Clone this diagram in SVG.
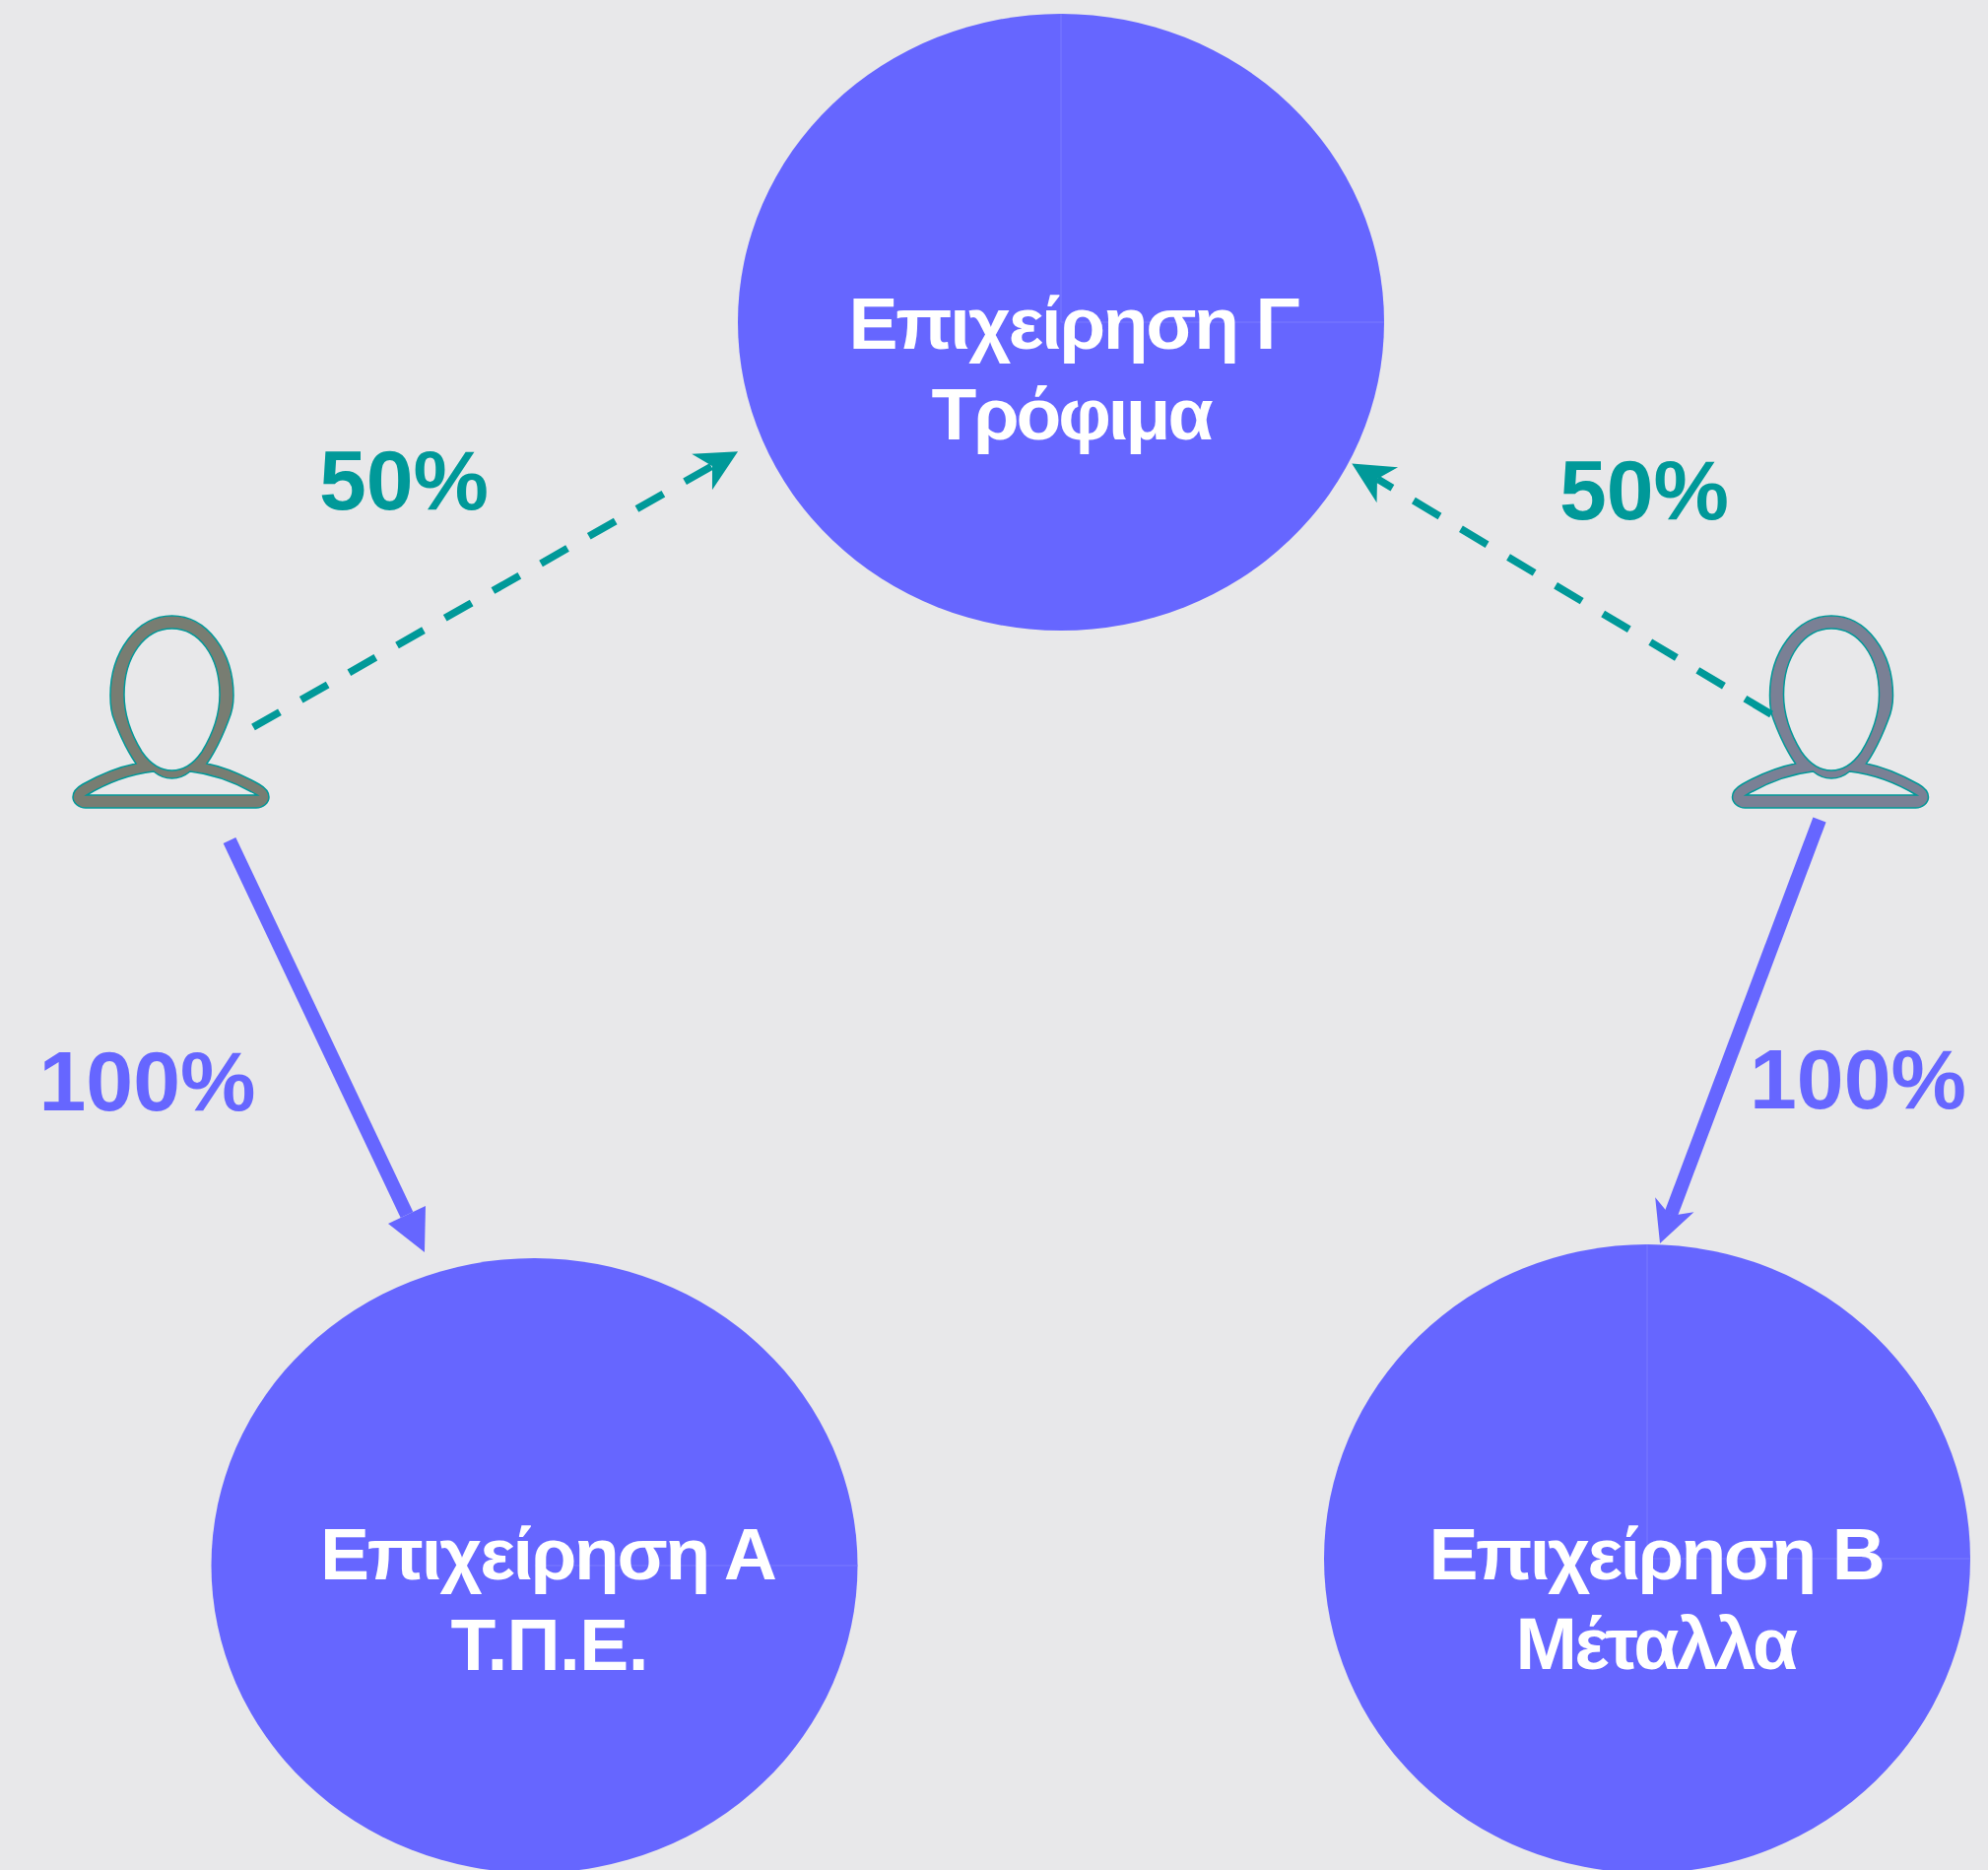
<svg xmlns="http://www.w3.org/2000/svg" width="2018" height="1898" viewBox="0 0 2018 1898">
<style>
.company{fill:#6666ff}
.seam{stroke:#7a7aff;stroke-width:1;fill:none}
.title{font-family:"Liberation Sans",Arial,sans-serif;font-weight:700;font-size:75px;fill:#fff}
.pct{font-family:"Liberation Sans",Arial,sans-serif;font-weight:700;font-size:86px;text-anchor:middle}
.teal{fill:#009999}
.blue{fill:#6666ff}
.person{fill-rule:evenodd;stroke:#009999;stroke-width:1.5}
.dash{stroke:#009999;stroke-width:7.5;stroke-dasharray:31 25;fill:none}
.solid{stroke:#6666ff;stroke-width:14;fill:none}
</style>
<defs>
<marker id="barbTeal" markerUnits="userSpaceOnUse" markerWidth="60" markerHeight="60" viewBox="-20 -30 60 60" refX="0" refY="0" orient="auto"><path d="M30,0L-12,-21L0,0L-12,21Z" fill="#009999"/></marker>
<marker id="barbBlue" markerUnits="userSpaceOnUse" markerWidth="60" markerHeight="60" viewBox="-20 -30 60 60" refX="0" refY="0" orient="auto"><path d="M30,0L-12,-21L0,0L-12,21Z" fill="#6666ff"/></marker>
<marker id="plainBlue" markerUnits="userSpaceOnUse" markerWidth="60" markerHeight="60" viewBox="-10 -30 60 60" refX="0" refY="0" orient="auto"><path d="M42,0L0,-21L0,21Z" fill="#6666ff"/></marker>
<path id="personShape" d="M174.5,625C210,625 237,662 237,706C237,716 235,724 232,731C226,747 219,762 210,775C230,779 247,787 263,796C270,800 273,804 273,809C273,815 267,820 260,820L87,820C80,820 74,815 74,809C74,804 77,800 84,796C100,787 118,779 138,775C129,762 122,747 116,731C113,724 112,716 112,706C112,662 139,625 174.5,625ZM174.5,638C147,638 126,666 126,705C126,726 133,745 144,763C153,776 163,782 174.5,782C186,782 196,776 205,763C216,745 223,726 223,705C223,666 202,638 174.5,638ZM156,783C130,786 108,795 88,807L261,807C241,795 219,786 193,783C187,788 181,790 174.5,790C168,790 162,788 156,783Z"/>
</defs>
<rect width="2018" height="1898" fill="#e8e8ea"/>
<g id="company-c">
<ellipse class="company" cx="1077" cy="327" rx="328" ry="313"/>
<path class="seam" d="M1077,14V327H1405"/>
<text class="title" x="861.5" y="354" textLength="458" lengthAdjust="spacing">Επιχείρηση Γ</text>
<text class="title" x="945.5" y="446" textLength="286" lengthAdjust="spacing">Τρόφιμα</text>
</g>
<g id="company-a">
<ellipse class="company" cx="542.5" cy="1589" rx="328" ry="312"/>
<path class="seam" d="M542.5,1589H870.5"/>
<text class="title" x="325" y="1603" textLength="464" lengthAdjust="spacing">Επιχείρηση Α</text>
<text class="title" x="457.5" y="1695" textLength="201" lengthAdjust="spacing">Τ.Π.Ε.</text>
</g>
<g id="company-b">
<ellipse class="company" cx="1672" cy="1582" rx="328" ry="319"/>
<path class="seam" d="M1672,1263V1582H2000"/>
<text class="title" x="1450.5" y="1603" textLength="463.5" lengthAdjust="spacing">Επιχείρηση Β</text>
<text class="title" x="1538.5" y="1694" textLength="286.5" lengthAdjust="spacing">Μέταλλα</text>
</g>
<g id="person-left"><use href="#personShape" class="person" fill="#787d72"/></g>
<g id="person-right"><use href="#personShape" class="person" x="1684.5" fill="#7a8095"/></g>
<g id="connectors">
<line class="dash" x1="257" y1="738" x2="723" y2="473" marker-end="url(#barbTeal)"/>
<line class="dash" x1="1798" y1="725" x2="1398" y2="486" marker-end="url(#barbTeal)"/>
<line class="solid" x1="233" y1="853" x2="413" y2="1233" marker-end="url(#plainBlue)"/>
<line class="solid" x1="1847" y1="832" x2="1695.6" y2="1234" marker-end="url(#barbBlue)"/>
</g>
<g id="labels">
<text class="pct teal" x="410" y="517">50%</text>
<text class="pct teal" x="1669" y="527">50%</text>
<text class="pct blue" x="149.5" y="1127">100%</text>
<text class="pct blue" x="1886" y="1125">100%</text>
</g>
</svg>
